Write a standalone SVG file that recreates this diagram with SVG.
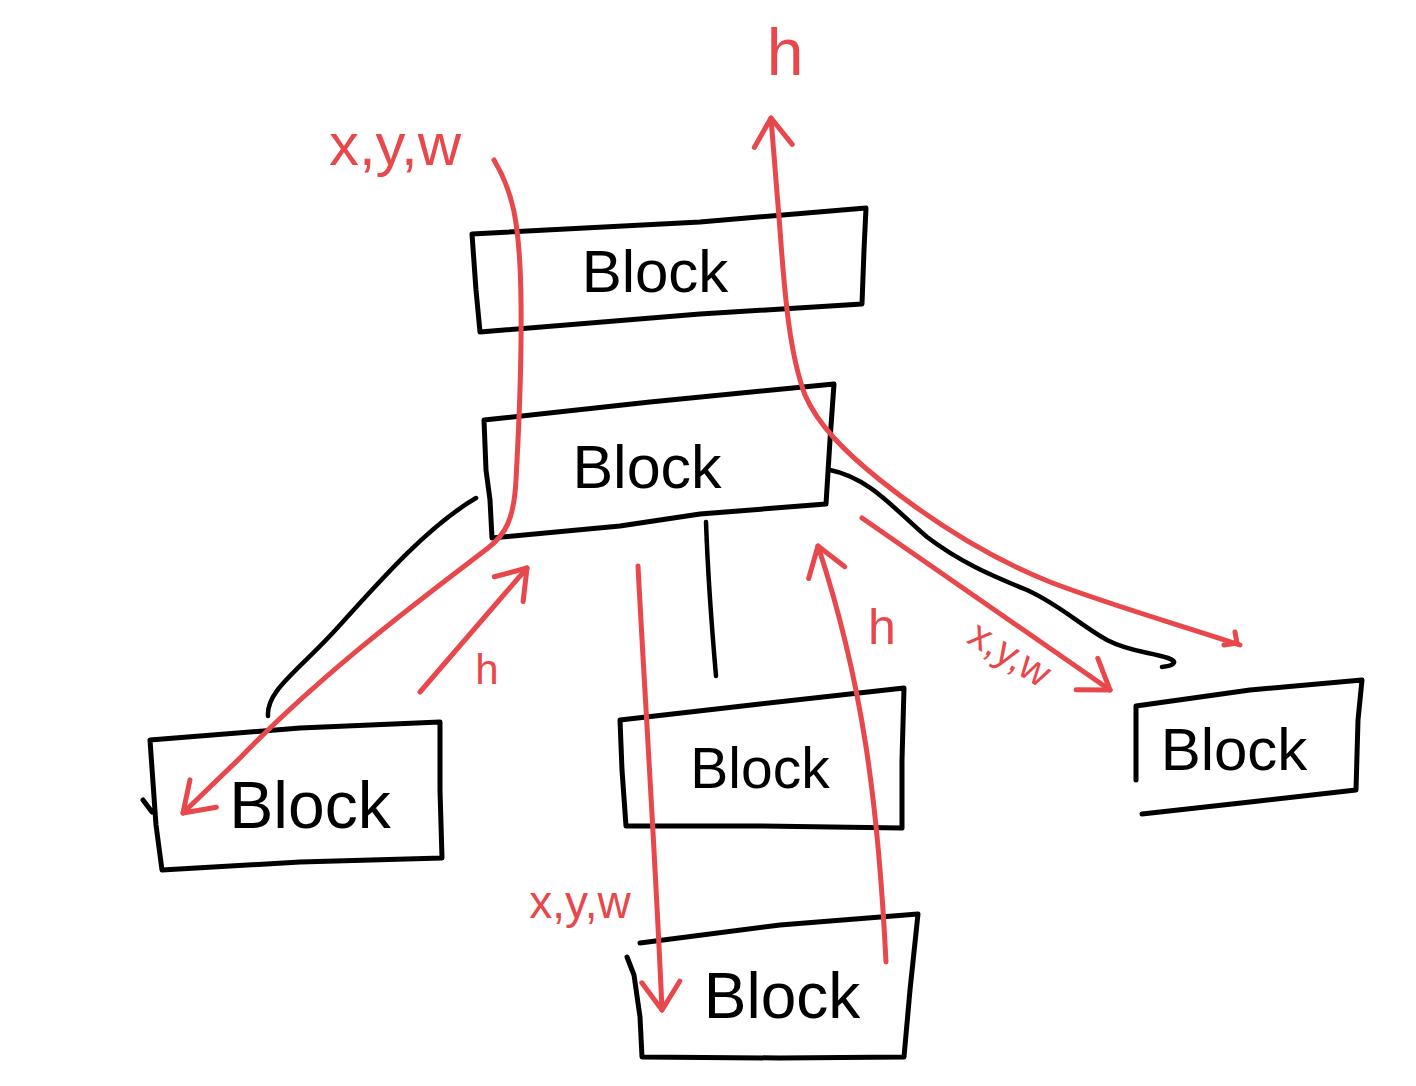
<svg xmlns="http://www.w3.org/2000/svg" width="1416" height="1086" viewBox="0 0 1416 1086">
<style>
.blk{fill:none;stroke:#000;stroke-width:5;stroke-linecap:round;stroke-linejoin:round}
.con{fill:none;stroke:#000;stroke-width:4.5;stroke-linecap:round;stroke-linejoin:round}
.red{fill:none;stroke:#e8474b;stroke-width:5;stroke-linecap:round;stroke-linejoin:round}
.bt{font-family:"Liberation Sans",Arial,sans-serif;fill:#000;text-anchor:middle}
.rt{font-family:"Liberation Sans",Arial,sans-serif;fill:#e8474b;text-anchor:middle}
</style>
<defs>
<marker id="ah" viewBox="-34 -24 38 48" refX="0" refY="0" markerWidth="38" markerHeight="48" markerUnits="userSpaceOnUse" orient="auto">
<path d="M-28,-19 L0,0 L-28,19" fill="none" stroke="#e8474b" stroke-width="5" stroke-linecap="round" stroke-linejoin="round"/>
</marker>
</defs>
<rect width="1416" height="1086" fill="#fff"/>

<g id="block1">
<path class="blk" d="M472,234 L700,222 L866,208 L864,250 L862,304 L700,314 L480,332 L476,290 L472,234"/>
<text class="bt" x="655" y="292" font-size="60">Block</text>
</g>
<g id="block2">
<path class="blk" d="M484,420 L650,402 L834,384 L830,440 L826,504 L700,514 L620,526 L492,538 L490,500 L486,470 L484,420"/>
<text class="bt" x="647" y="488" font-size="61">Block</text>
</g>
<g id="block3">
<path class="blk" d="M150,740 L300,728 L440,722 L440,790 L442,858 L300,862 L162,870 L156,825 L150,740 M143,800 L152,812"/>
<text class="bt" x="310" y="828" font-size="66">Block</text>
</g>
<g id="block4">
<path class="blk" d="M620,720 L760,704 L904,688 L902,760 L902,828 L760,826 L626,826 L622,770 L620,720"/>
<text class="bt" x="760" y="788" font-size="57">Block</text>
</g>
<g id="block5">
<path class="blk" d="M1136,706 L1250,690 L1362,680 L1358,720 L1356,790 L1250,802 L1142,814 M1136,706 L1136,780"/>
<text class="bt" x="1234" y="770" font-size="60">Block</text>
</g>
<g id="block6">
<path class="blk" d="M640,943 L780,925 L918,914 L910,990 L904,1057 L780,1058 L642,1057 L640,1017 L634,975 L627,957"/>
<text class="bt" x="782" y="1018" font-size="64">Block</text>
</g>

<g id="connectors">
<path class="con" d="M476,498 C430,525 385,575 340,625 C300,670 266,690 268,716"/>
<path class="con" d="M706,522 C708,580 712,630 716,676"/>
<path class="con" d="M830,470 C870,478 895,510 927,537 C960,562 990,575 1027,590 C1060,605 1080,625 1107,640 C1130,652 1150,652 1168,658 C1180,662 1172,666 1162,667"/>

<path class="red" marker-end="url(#ah)" d="M494,160 C512,190 520,220 521,300 C522,380 518,440 516,480 C514,520 505,535 488,548 C440,585 330,665 240,758 L183,813"/>
<path class="red" marker-end="url(#ah)" d="M420,692 L527,568"/>
<path class="red" marker-end="url(#ah)" d="M638,566 C645,700 655,850 662,1010"/>
<path class="red" marker-end="url(#ah)" d="M886,962 C878,800 862,680 818,546"/>
<path class="red" marker-end="url(#ah)" d="M862,518 L1110,690"/>
<path class="red" marker-end="url(#ah)" d="M1240,645 C1180,625 1110,605 1050,582 C990,558 930,520 880,480 C845,452 818,425 805,395 C790,355 785,300 780,230 L771,118"/>
<path class="red" d="M1235,632 L1237,643 L1224,645"/>
</g>

<g id="labels">
<text class="rt" x="395" y="165" font-size="60">x,y,w</text>
<text class="rt" x="785" y="75" font-size="66">h</text>
<text class="rt" x="487" y="684" font-size="42">h</text>
<text class="rt" x="882" y="644" font-size="50">h</text>
<text class="rt" x="580" y="918" font-size="46">x,y,w</text>
<text class="rt" x="0" y="0" font-size="40" transform="translate(1003,665) rotate(32)">x,y,w</text>
</g>
</svg>
